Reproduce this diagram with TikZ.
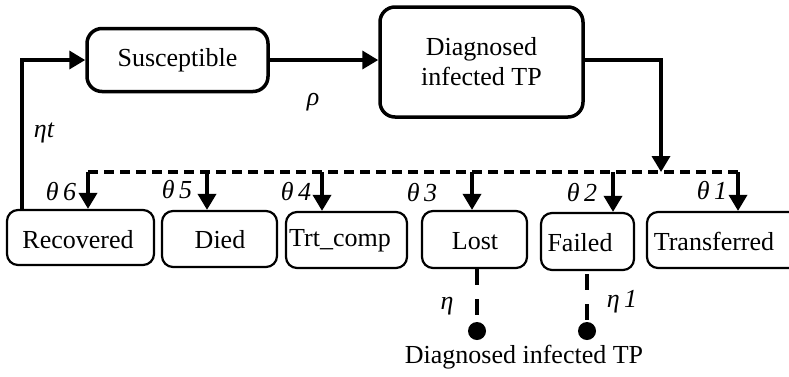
\documentclass[tikz,border=0pt]{standalone}
\usepackage{fontspec}
\setmainfont{Liberation Serif}
\usetikzlibrary{arrows.meta}
\begin{document}
\begin{tikzpicture}[x=1pt,y=-1pt,
  txt/.style={font=\fontsize{26}{30}\selectfont, inner sep=0pt},
  lbl/.style={font=\fontsize{26}{30}\selectfont\itshape, inner sep=0pt},
  topbox/.style={draw, line width=3.5pt, rounded corners=15pt, inner sep=0pt, align=center, font=\fontsize{26}{30}\selectfont},
  botbox/.style={draw, line width=2.2pt, rounded corners=11pt, inner sep=0pt},
  flow/.style={line width=3.5pt, -{Triangle[width=18pt,length=16pt]}},
  bus/.style={line width=3.5pt, dash pattern=on 10pt off 6pt},
  tail/.style={line width=4pt, dash pattern=on 16pt off 14pt},
  dot/.style={circle, fill, inner sep=0pt, minimum size=18pt}]
\useasboundingbox (0,0) rectangle (789,376);
\begin{scope}
\clip (0,0) rectangle (789,376);
% top boxes
\node[topbox, minimum width=181pt, minimum height=63pt] (sus) at (177.5,60) {Susceptible};
\node[topbox, minimum width=203pt, minimum height=110pt] (diag) at (481.5,62) {Diagnosed\\infected TP};
% bottom boxes
\node[botbox, minimum width=147pt, minimum height=55pt] (rec) at (80.5,237.5) {};
\node[botbox, minimum width=115pt, minimum height=56pt] (died) at (219.5,239) {};
\node[botbox, minimum width=121pt, minimum height=56pt] (trt) at (346.5,240) {};
\node[botbox, minimum width=105pt, minimum height=57pt] (lost) at (474.5,239.5) {};
\node[botbox, minimum width=93pt, minimum height=57pt] (failed) at (587.5,241.5) {};
\node[botbox, minimum width=170pt, minimum height=56pt] (trans) at (732,240) {};
\node[txt] (rect) at (78,240) {Recovered};
\node[txt] (diedt) at (220,240) {Died};
\node[txt] (trtt) at (340,241) {Trt\_comp};
\node[txt] (lostt) at (475,241) {Lost};
\node[txt] (failedt) at (580,243) {Failed};
\node[txt] (transt) at (714,241) {Transferred};
% main arrows
\draw[flow] (sus.east) -- (sus.east -| diag.west);
\coordinate (dj) at (661,172);
\draw[flow] (diag.east |- 0,60) -| (dj);
\coordinate (lf) at (22,211);
\draw[flow] (lf) |- (sus.west);
% bus
\coordinate (b6) at (88,172);
\coordinate (b5) at (207,172);
\coordinate (b4) at (322,172);
\coordinate (b3) at (472,172);
\coordinate (b2) at (613,172);
\coordinate (b1) at (738,172);
\draw[bus] (b6) -- (b1);
\draw[flow] (b6) -- (b6 |- rec.north);
\draw[flow] (b5) -- (b5 |- died.north);
\draw[flow] (b4) -- (b4 |- trt.north);
\draw[flow] (b3) -- (b3 |- lost.north);
\draw[flow] (b2) -- (b2 |- failed.north);
\draw[flow] (b1) -- (b1 |- trans.north);
% tails
\node[dot] (d1) at (477,331) {};
\node[dot] (d2) at (587,331) {};
\draw[tail] (d1 |- lost.south) -- (d1.center);
\draw[tail] (d2 |- failed.south) ++(0,3) -- (d2.center);
% labels
\node[lbl] (rho) at (313,102) {ρ};
\node[lbl] (etat) at (44,133) {ηt};
\node[lbl] (t6) at (61,192) {θ\,6};
\node[lbl] (t5) at (177,190) {θ\,5};
\node[lbl] (t4) at (296,192) {θ\,4};
\node[lbl] (t3) at (422,193) {θ\,3};
\node[lbl] (t2) at (582,193) {θ\,2};
\node[lbl] (t1) at (712,191) {θ\,1};
\node[lbl] (eta) at (447,306) {η};
\node[lbl] (eta1) at (622,302) {η\,1};
\node[txt] (bot) at (524,357) {Diagnosed infected TP};
\end{scope}
\end{tikzpicture}
\end{document}
